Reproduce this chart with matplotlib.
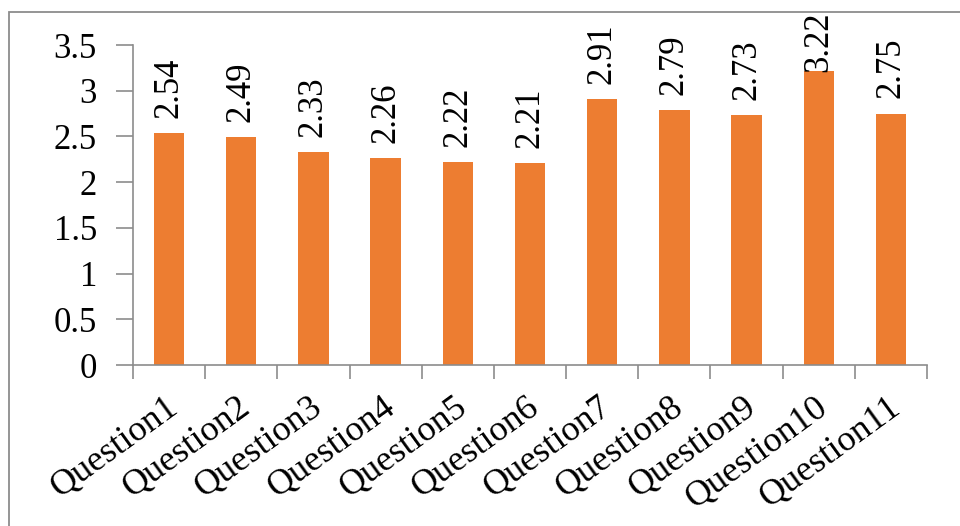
import matplotlib
matplotlib.use("Agg")
import matplotlib.pyplot as plt
from matplotlib.patches import Rectangle
from matplotlib.ticker import MultipleLocator, FuncFormatter

# Mean score per question
categories = ["Question1", "Question2", "Question3", "Question4", "Question5",
              "Question6", "Question7", "Question8", "Question9", "Question10",
              "Question11"]
values = [2.54, 2.49, 2.33, 2.26, 2.22, 2.21, 2.91, 2.79, 2.73, 3.22, 2.75]

plt.rcParams["font.family"] = ["Liberation Serif", "DejaVu Serif"]

W, H, DPI = 960, 526, 100
fig = plt.figure(figsize=(W / DPI, H / DPI), dpi=DPI)

# chart-area frame (left and top edges visible)
fig.add_artist(Rectangle((9 / W, -0.05), 1.2, (H - 12) / H + 0.05,
                         transform=fig.transFigure, fill=False,
                         edgecolor="#8c8c8c", linewidth=1.3))

ax = fig.add_axes([133 / W, (H - 365) / H, (927 - 133) / W, (365 - 45) / H])

x = list(range(len(categories)))
ax.bar(x, values, width=0.42, color="#ED7D31", zorder=2)

ax.set_xlim(-0.5, len(categories) - 0.5)
ax.set_ylim(0, 3.5)
ax.yaxis.set_major_locator(MultipleLocator(0.5))
ax.yaxis.set_major_formatter(FuncFormatter(lambda v, p: f"{v:g}"))

gray = "#8c8c8c"
for side in ("top", "right"):
    ax.spines[side].set_visible(False)
for side in ("left", "bottom"):
    ax.spines[side].set_color(gray)
    ax.spines[side].set_linewidth(1.2)

ax.tick_params(axis="y", direction="out", length=12, width=1.2, color=gray,
               labelsize=25, pad=14)
ax.set_xticks([i - 0.5 for i in range(len(categories) + 1)])
ax.set_xticklabels([])
ax.tick_params(axis="x", direction="out", length=10, width=1.2, color=gray)

# category labels, slanted, anchored at each bar centre
for xi, name in zip(x, categories):
    ax.annotate(name, xy=(xi, 0), xycoords="data", xytext=(-3, -18),
                textcoords="offset points", rotation=36, ha="right", va="top",
                rotation_mode="anchor", fontsize=26, annotation_clip=False)

# value labels above the bars, kept inside the chart area
cap = 3.21
for xi, v in zip(x, values):
    y = min(v + 0.165, cap)
    ax.text(xi, y, f"{v:.2f}", rotation=90, ha="center", va="bottom",
            fontsize=25, clip_on=False)

fig.savefig("out.png", dpi=DPI)
